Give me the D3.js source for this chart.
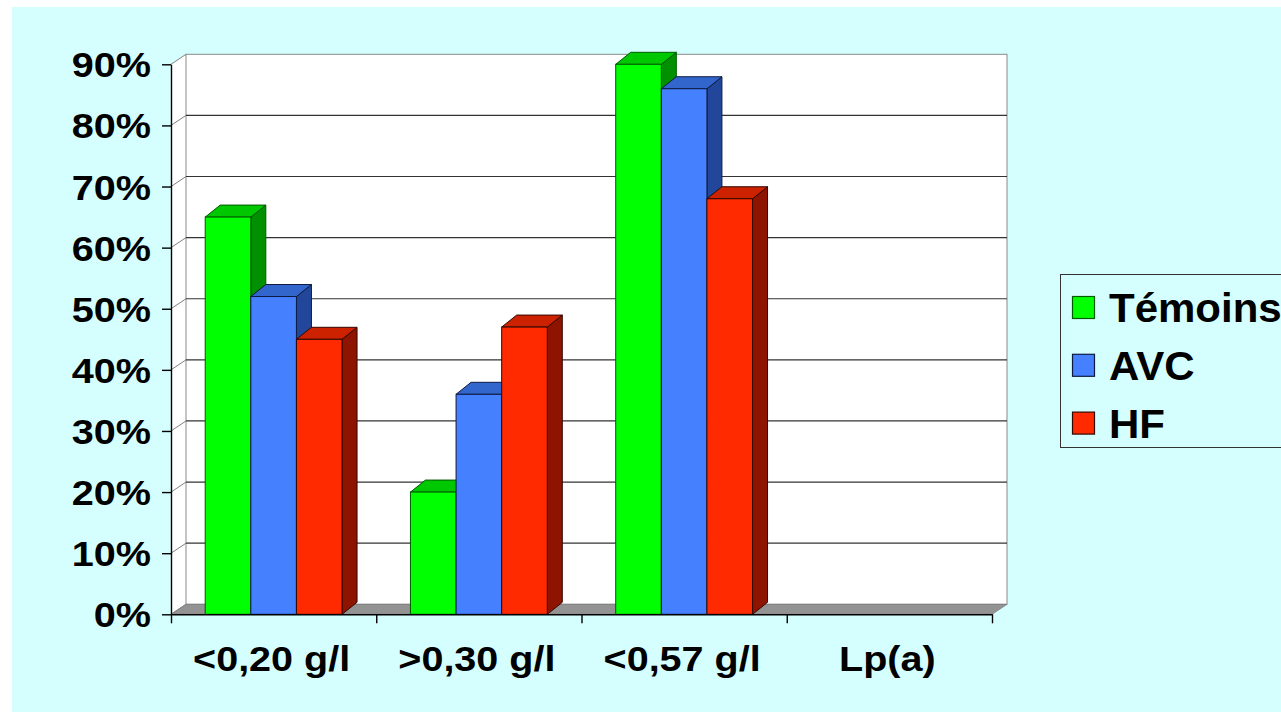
<!DOCTYPE html>
<html>
<head>
<meta charset="utf-8">
<script src="https://cdn.jsdelivr.net/npm/d3@7"></script>
<style>
html, body { margin: 0; padding: 0; background: #fff; overflow: hidden; }
svg { display: block; }
text { font-family: "Liberation Sans", Arial, sans-serif; font-weight: bold; fill: #000; }
</style>
</head>
<body>
<script>
// chart data
const categories = ["<0,20 g/l", ">0,30 g/l", "<0,57 g/l", "Lp(a)"];
const seriesNames = ["Témoins", "AVC", "HF"];
const temoins = [0.65, 0.20, 0.90, null];
const avc = [0.52, 0.36, 0.86, null];
const hf = [0.45, 0.47, 0.68, null];
const yTicks = [0, 0.1, 0.2, 0.3, 0.4, 0.5, 0.6, 0.7, 0.8, 0.9];

const W = 1281, H = 712;
const DX = 15, DY = 10;      // wall depth
const BDX = 15, BDY = 12;    // bar depth
const COLORS = {
    "Témoins": {front: "#00ff00", top: "#00c800", side: "#009000", stroke: "#005a00"},
    "AVC":     {front: "#4580ff", top: "#3366cc", side: "#22479a", stroke: "#0d1a40"},
    "HF":      {front: "#ff2a00", top: "#cc2200", side: "#8f1400", stroke: "#300800"}
};

const values = {"Témoins": temoins, "AVC": avc, "HF": hf};

const SVG = d3.select("body").append("svg").attr("width", W).attr("height", H);

// background
SVG.append("rect").attr("x", 12).attr("y", 7).attr("width", W - 12).attr("height", H - 7).attr("fill", "#d5ffff");

const x0 = d3.scaleBand().domain(categories).range([171, 992]);
const x1 = d3.scaleBand().domain(seriesNames).range([0, x0.bandwidth()]).paddingInner(0).paddingOuter(0.75);
const y = d3.scaleLinear().domain([0, 0.9]).range([614.3, 64.3]);

const left = x0.range()[0], right = x0.range()[1];
const yTop = y(0.9), yBot = y(0);

let pts = (arr) => arr.map(p => p.join(",")).join(" ");

// left side wall + back wall
SVG.append("polygon")
    .attr("points", pts([[left, yTop], [left + DX, yTop - DY], [left + DX, yBot - DY], [left, yBot]]))
    .attr("fill", "#fff");
SVG.append("rect")
    .attr("x", left + DX).attr("y", yTop - DY)
    .attr("width", right - left).attr("height", yBot - yTop)
    .attr("fill", "#fff").attr("stroke", "#8a8a8a");

// gridlines on back wall + diagonals on side wall
const grid = SVG.append("g");
grid.selectAll("line.g")
    .data(yTicks.slice(1, -1))
    .enter().append("line")
    .attr("x1", left + DX).attr("x2", right + DX)
    .attr("y1", d => y(d) - DY).attr("y2", d => y(d) - DY)
    .attr("stroke", "#333").attr("stroke-width", 1.2);
grid.selectAll("line.d")
    .data(yTicks)
    .enter().append("line")
    .attr("x1", left).attr("x2", left + DX)
    .attr("y1", d => y(d)).attr("y2", d => y(d) - DY)
    .attr("stroke", "#808080");

// floor
SVG.append("polygon")
    .attr("points", pts([[left, yBot], [left + DX, yBot - DY], [right + DX, yBot - DY], [right, yBot]]))
    .attr("fill", "#939393").attr("stroke", "#7a7a7a").attr("stroke-width", 0.8);

// bars
const groups = SVG.selectAll("g.cat")
    .data(categories)
    .enter().append("g")
    .attr("transform", d => "translate(" + x0(d) + ",0)");

groups.each(function(cat, ci) {
    let g = d3.select(this);
    seriesNames.forEach(s => {
        let v = values[s][ci];
        if (v == null) return;
        let c = COLORS[s];
        let bx = x1(s), bw = x1.bandwidth(), ty = y(v), by = y(0);
        g.append("polygon")
            .attr("points", pts([[bx + bw, ty], [bx + bw + BDX, ty - BDY], [bx + bw + BDX, by - BDY], [bx + bw, by]]))
            .attr("fill", c.side).attr("stroke", c.stroke).attr("stroke-width", 1);
        g.append("polygon")
            .attr("points", pts([[bx, ty], [bx + BDX, ty - BDY], [bx + bw + BDX, ty - BDY], [bx + bw, ty]]))
            .attr("fill", c.top).attr("stroke", c.stroke).attr("stroke-width", 1);
        g.append("rect")
            .attr("x", bx).attr("y", ty).attr("width", bw).attr("height", by - ty)
            .attr("fill", c.front).attr("stroke", c.stroke).attr("stroke-width", 1);
    });
});

// axes
const yAxis = d3.axisLeft(y).tickValues(yTicks).tickSize(9).tickFormat("").tickSizeOuter(0);
SVG.append("g").attr("transform", "translate(" + left + ",0)").call(yAxis)
    .call(g => g.selectAll("line, path").attr("stroke", "#000").attr("stroke-width", 1.4));

const xAxis = d3.axisBottom(d3.scaleLinear().domain([0, categories.length]).range([left, right]))
    .tickValues(d3.range(categories.length + 1)).tickSize(9).tickFormat("").tickSizeOuter(0);
SVG.append("g").attr("transform", "translate(0," + yBot + ")").call(xAxis)
    .call(g => g.selectAll("line, path").attr("stroke", "#000").attr("stroke-width", 1.4));

// y labels
SVG.selectAll("text.ylab")
    .data(yTicks)
    .enter().append("text")
    .attr("transform", d => "translate(151," + (y(d) + 13) + ") scale(1.1,1)")
    .attr("text-anchor", "end")
    .style("font-size", "36px")
    .text(d3.format(".0%"));

// category labels
SVG.selectAll("text.xlab")
    .data(categories)
    .enter().append("text")
    .attr("transform", d => "translate(" + (x0(d) + x0.bandwidth() / 2 - 2) + ",670.5) scale(1.13,1)")
    .attr("text-anchor", "middle")
    .style("font-size", "35px")
    .text(d => d);

// legend
const LEGEND = SVG.append("g");
LEGEND.append("rect").attr("x", 1060.5).attr("y", 274.5).attr("width", 240).attr("height", 173)
    .attr("fill", "none").attr("stroke", "#333").attr("stroke-width", 1);
const items = LEGEND.selectAll("g")
    .data(seriesNames)
    .enter().append("g")
    .attr("transform", (d, i) => "translate(1072," + (296 + i * 57.8) + ")");
items.append("rect")
    .attr("x", 0.5).attr("y", 0.5).attr("width", 22).attr("height", 22)
    .attr("fill", d => COLORS[d].front).attr("stroke", d => COLORS[d].stroke).attr("stroke-width", 1.2);
items.append("text")
    .attr("transform", "translate(37,26) scale(1.05,1)")
    .style("font-size", "40px")
    .text(d => d);
</script>
</body>
</html>
